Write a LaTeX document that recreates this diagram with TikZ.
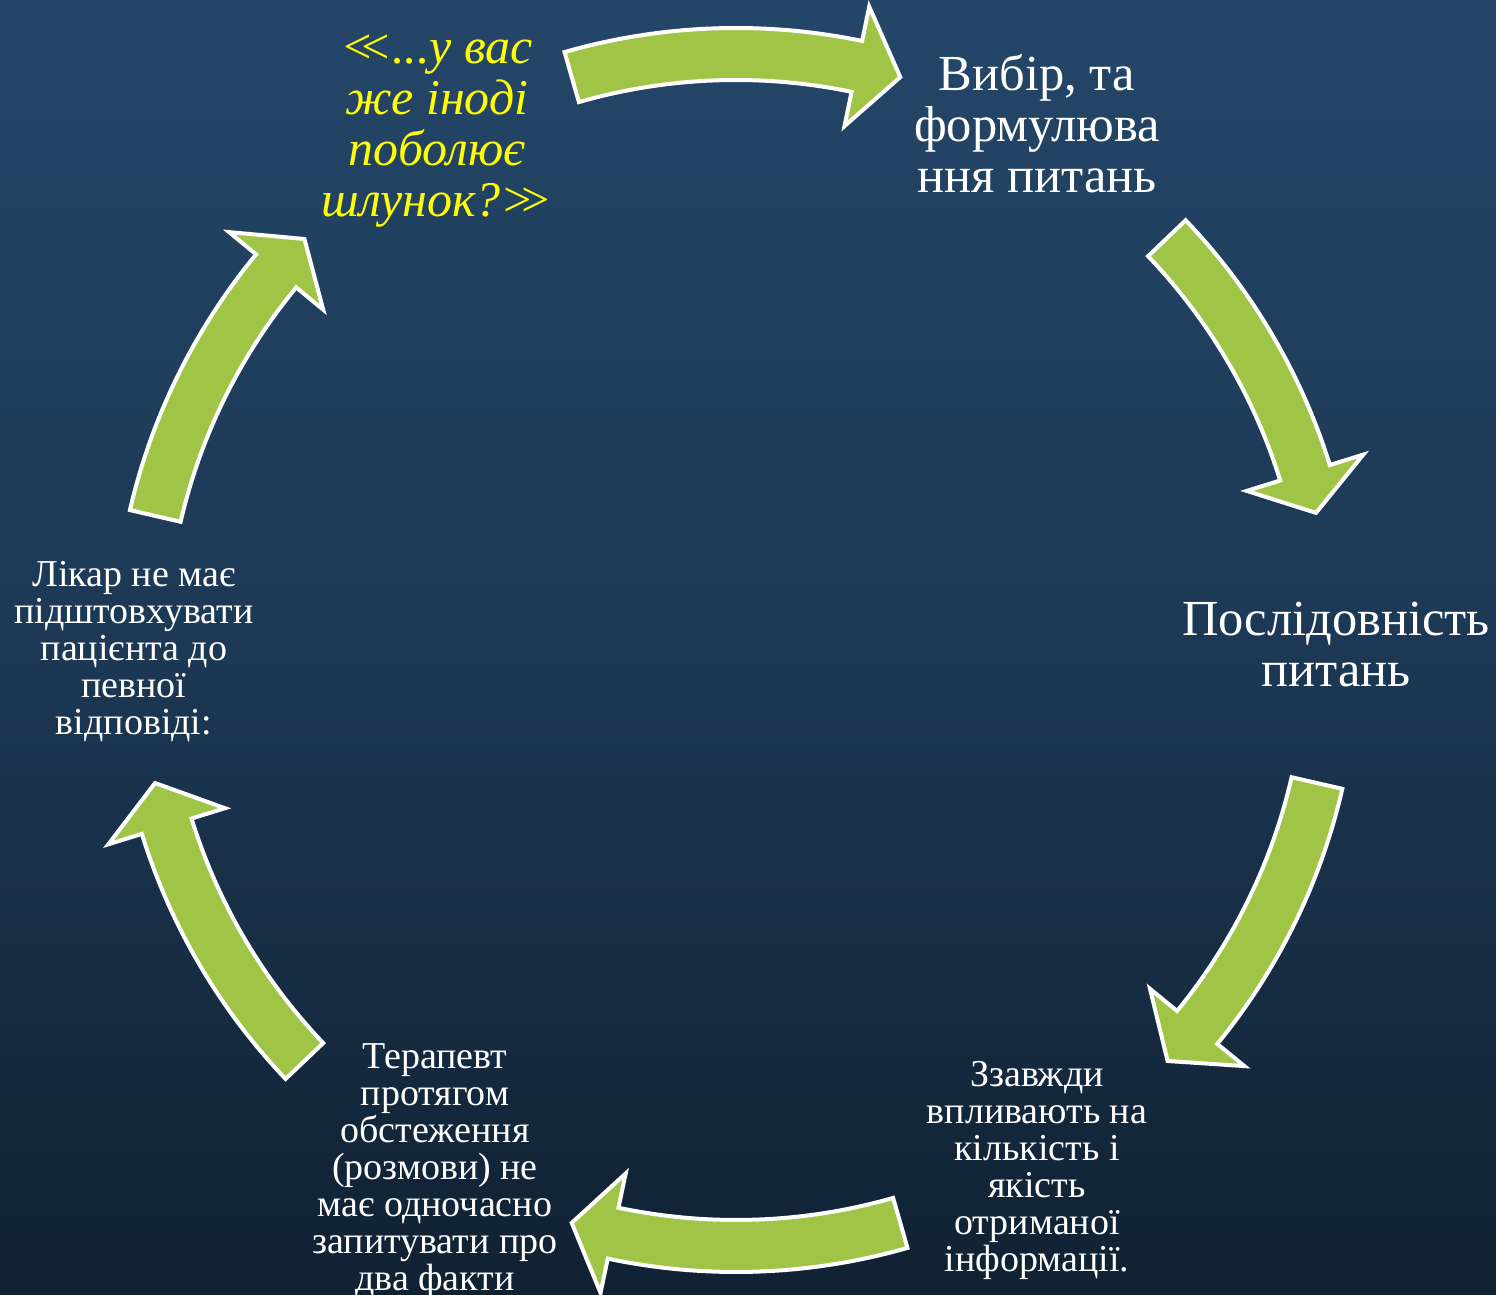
\documentclass[tikz,border=0pt]{standalone}
\usepackage{fontspec}
\setmainfont{Liberation Serif}
\definecolor{bgtop}{RGB}{36,70,104}
\definecolor{bgmid}{RGB}{28,56,84}
\definecolor{bgbot}{RGB}{16,33,50}
\definecolor{arrowgreen}{RGB}{160,197,70}
\definecolor{quoteyellow}{RGB}{255,255,0}
\newcommand\dlt{<\kern-0.32em<}
\newcommand\dgt{>\kern-0.32em>}
\tikzset{
  cyc/.style={draw=white, line width=4pt, fill=arrowgreen, line join=miter},
  bigtxt/.style={text=white, align=center, anchor=base, inner sep=0pt,
    font=\fontsize{50.5}{51}\selectfont},
  smalltxt/.style={text=white, align=center, anchor=base, inner sep=0pt,
    font=\fontsize{38}{37}\selectfont},
  quotetxt/.style={text=quoteyellow, align=center, anchor=base, inner sep=0pt,
    font=\fontsize{50}{51}\selectfont\itshape},
}
% start angle, head base angle, tip angle
\newcommand\cycarrow[3]{%
  \draw[cyc] (#1:622) arc[start angle=#1, end angle=#2, radius=622]
    -- (#2:657) -- (#3:596) -- (#2:535) -- (#2:570)
    arc[start angle=#2, end angle=#1, radius=570] -- cycle;}
\begin{document}
\begin{tikzpicture}[x=1pt,y=1pt]
\useasboundingbox (0,0) rectangle (1496,1295);
\shade[top color=bgtop, bottom color=bgbot, middle color=bgmid] (0,0) rectangle (1496,1295);

\begin{scope}[shift={(736,645)}]
  \cycarrow{106}{78.3}{74}
  \cycarrow{43.7}{17.3}{13.3}
  \cycarrow{-12.9}{-39.3}{-43.6}
  \cycarrow{-74}{-101.9}{-106}
  \cycarrow{-136.4}{-162.8}{-167.1}
  \cycarrow{167}{140.5}{136.4}
\end{scope}

\node[quotetxt] (q) at (437,1078) {\dlt...у вас\\же іноді\\поболює\\шлунок?\dgt};
\node[bigtxt] (v) at (1037,1102) {Вибір, та\\формулюва\\ння питань};
\node[bigtxt] (p) at (1336,608) {Послідовність\\питань};
\node[smalltxt] (z) at (1037,23) {Ззавжди\\впливають на\\кількість і\\якість\\отриманої\\інформації.};
\node[smalltxt] (t) at (435,4) {Терапевт\\протягом\\обстеження\\(розмови) не\\має одночасно\\запитувати про\\два факти};
\node[smalltxt] (l) at (134,560) {Лікар не має\\підштовхувати\\пацієнта до\\певної\\відповіді:};
\end{tikzpicture}
\end{document}
